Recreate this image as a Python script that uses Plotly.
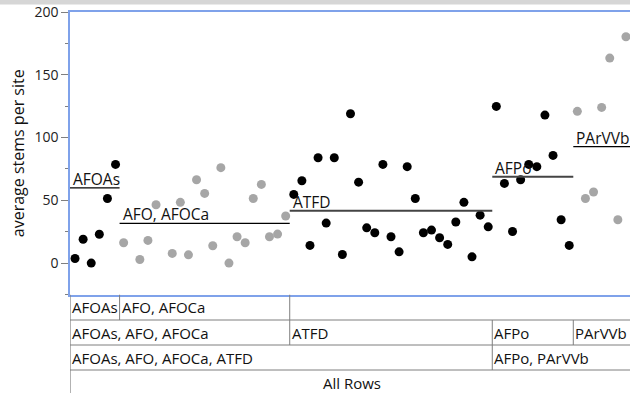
import plotly.graph_objects as go

# ---------------- data ----------------
group_names = ["AFOAs", "AFO, AFOCa", "ATFD", "AFPo", "PArVVb"]
afoas_values = [3.7, 19, 0, 23, 51.5, 78.6]
afo_afoca_values = [16.2, None, 2.9, 18.1, 46.5, None, 7.7, 48.4, 6.6, 66.4, 55.5,
                    13.8, 76, 0, 21, 16.2, 51.5, 62.7, 21, 23.1, 37.5]
atfd_values = [54.7, 65.6, 14.1, 83.9, 31.9, 83.9, 6.9, 119, 64.5, 28.1, 24.2, 78.6,
               21, 9, 76.8, 51.5, 24.2, 26.3, 20.2, 14.9, 32.7, 48.4, 5, 38.2, 28.9]
afpo_values = [124.8, 63.5, 25.2, 66.4, 78.6, 76.8, 117.9, 85.8, 34.5, 14.1]
parvvb_values = [120.9, 51.5, 56.6, 124, 163.3, 34.5, 180.3]
group_line_values = [60, 31.6, 41.7, 68.8, 92.7]

level2_labels = ["AFOAs, AFO, AFOCa", "ATFD", "AFPo", "PArVVb"]
level3_labels = ["AFOAs, AFO, AFOCa, ATFD", "AFPo, PArVVb"]
level4_label = "All Rows"
y_tick_values = [0, 50, 100, 150, 200]

# ---------------- styling ----------------
group_values = [afoas_values, afo_afoca_values, atfd_values, afpo_values, parvvb_values]
group_colors = ["#000000", "#a6a6a6", "#000000", "#000000", "#a6a6a6"]
line_colors = ["#000000", "#000000", "#444444", "#444444", "#000000"]
line_widths = [1.2, 1.2, 2.2, 2.2, 1.2]
FONT = "Open Sans"
BLUE = "#7fa2ea"
GRID = "#7f7f7f"

X_LEFT = -0.62
X_RIGHT = 68.5

fig = go.Figure()

# group boundaries from the row counts
starts = []
pos = 0
for vals in group_values:
    starts.append(pos)
    pos += len(vals)
bounds = [X_LEFT] + [s - 0.5 for s in starts[1:]] + [X_RIGHT]

for i, vals in enumerate(group_values):
    xs = list(range(starts[i], starts[i] + len(vals)))
    fig.add_trace(go.Scatter(
        x=xs, y=vals, mode="markers",
        marker=dict(color=group_colors[i], size=9, line=dict(width=0)),
        showlegend=False, hoverinfo="y", cliponaxis=False,
    ))
    x0 = bounds[i]
    x1 = bounds[i + 1]
    fig.add_trace(go.Scatter(
        x=[x0, x1], y=[group_line_values[i]] * 2, mode="lines",
        line=dict(color=line_colors[i], width=line_widths[i]),
        showlegend=False, hoverinfo="skip",
    ))
    fig.add_annotation(
        x=x0, y=group_line_values[i], xref="x", yref="y",
        text=group_names[i], showarrow=False, xanchor="left", yanchor="bottom",
        xshift=1, yshift=-4, font=dict(family=FONT, size=15.5, color="#111111"),
    )

# ---------------- nested label table (y2 in pixel-like units, 0 at top) ----------------
row_edges = [0, 25.5, 50.5, 75.5, 101]
line_style = dict(color=GRID, width=1)

def hline(y):
    fig.add_shape(type="line", xref="x", yref="y2", x0=X_LEFT, x1=X_RIGHT + 1,
                  y0=y, y1=y, line=line_style)

def vline(x, y0, y1):
    fig.add_shape(type="line", xref="x", yref="y2", x0=x, x1=x,
                  y0=y0, y1=y1, line=line_style)

for y in row_edges[1:4]:
    hline(y)

def cell_text(text, x, row, center=False, x_end=None):
    yc = (row_edges[row] + row_edges[row + 1]) / 2
    if center:
        fig.add_annotation(x=(x + x_end) / 2, y=yc, xref="x", yref="y2", text=text,
                           showarrow=False, xanchor="center", yanchor="middle",
                           font=dict(family=FONT, size=15, color="#111111"))
    else:
        fig.add_annotation(x=x, y=yc, xref="x", yref="y2", text=text,
                           showarrow=False, xanchor="left", yanchor="middle", xshift=0,
                           font=dict(family=FONT, size=15, color="#111111"))

# row 1: first two groups
vline(bounds[1], row_edges[0], row_edges[1])
vline(bounds[2], row_edges[0], row_edges[2])
cell_text(group_names[0], bounds[0], 0)
cell_text(group_names[1], bounds[1], 0)
# row 2
level2_starts = [bounds[0], bounds[2], bounds[3], bounds[4]]
vline(bounds[3], row_edges[1], row_edges[3])
vline(bounds[4], row_edges[1], row_edges[2])
for lab, xs in zip(level2_labels, level2_starts):
    cell_text(lab, xs, 1)
# row 3
for lab, xs in zip(level3_labels, [bounds[0], bounds[3]]):
    cell_text(lab, xs, 2)
# row 4
cell_text(level4_label, bounds[0], 3, center=True, x_end=X_RIGHT + 0.5)

# left line through table
fig.add_shape(type="line", xref="x", yref="y2", x0=X_LEFT, x1=X_LEFT, y0=0, y1=101,
              line=dict(color=GRID, width=1.2))

# gray strip at very top
fig.add_shape(type="rect", xref="paper", yref="paper", x0=-0.2, x1=1.1,
              y0=1 + 7.5 / 381, y1=1 + 13 / 381, fillcolor="#d6d6d6", line=dict(width=0),
              layer="above")

fig.update_layout(
    width=630, height=393,
    margin=dict(l=70, r=0, t=12, b=0),
    paper_bgcolor="white", plot_bgcolor="white",
    showlegend=False,
    xaxis=dict(range=[X_LEFT, X_RIGHT], showgrid=False, zeroline=False,
               showticklabels=False, ticks="", showline=True, linecolor=BLUE,
               linewidth=1.5, mirror=True, anchor="y"),
    yaxis=dict(domain=[98.5 / 381, 1], range=[-25, 200], tickvals=y_tick_values,
               showgrid=False, zeroline=False, ticks="outside", ticklen=7,
               tickcolor=GRID, tickwidth=1, showline=True, linecolor=BLUE,
               linewidth=1.5,
               minor=dict(dtick=25, tick0=0, ticks="outside", ticklen=3.5,
                          tickcolor=GRID, showgrid=False),
               tickfont=dict(family=FONT, size=14, color="#222222"),
               title=dict(text="average stems per site", standoff=6,
                          font=dict(family=FONT, size=16, color="#111111"))),
    yaxis2=dict(domain=[0, 98.5 / 381], range=[98.5, 0], showgrid=False,
                zeroline=False, showticklabels=False, ticks="", showline=False,
                anchor="x"),
)

fig.write_html(
    "out.html",
    config={"displayModeBar": False},
    post_script="document.body.style.margin='0';document.body.style.overflow='hidden';",
)
